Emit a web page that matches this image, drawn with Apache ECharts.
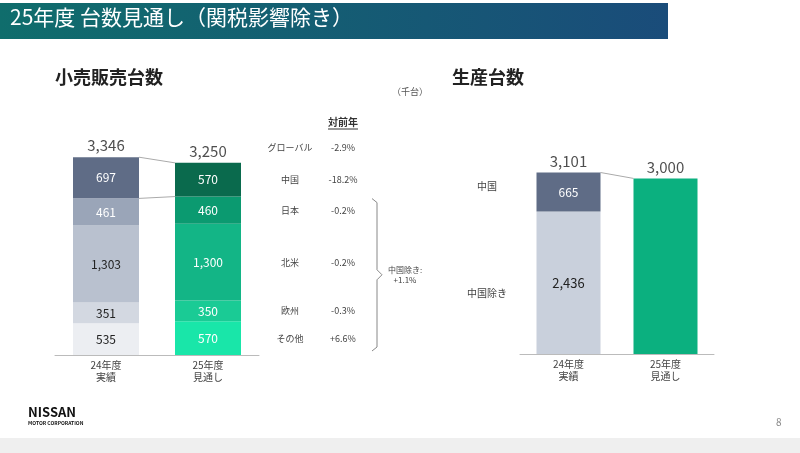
<!DOCTYPE html>
<html><head><meta charset="utf-8">
<script src="https://cdn.jsdelivr.net/npm/echarts@6/dist/echarts.min.js"></script>
<style>html,body{margin:0;padding:0;background:#fff}#main{width:800px;height:453px}</style>
</head><body><div id="main"></div>
<script>
// 小売販売台数 (千台)
var years = ['24年度\n実績', '25年度\n見通し'];
var regions = ['その他', '欧州', '北米', '日本', '中国'];
var retail = {
  'その他': [535, 570],
  '欧州': [351, 350],
  '北米': [1303, 1300],
  '日本': [461, 460],
  '中国': [697, 570]
};
var retailTotal = [3346, 3250];
var yoyGlobal = '-2.9%';
var yoy = ['+6.6%', '-0.3%', '-0.2%', '-0.2%', '-18.2%'];
// 生産台数
var prodExChina = [2436, 3000];
var prodChina = [665, null];
var prodTotal = [3101, 3000];

var grayCols = ['#eceef2', '#d3d8e1', '#b9c1cf', '#9aa5b8', '#5f6c86'];
var greenCols = ['#19e6a9', '#1acb95', '#13b586', '#0b9a70', '#0a6a4d'];

var chart = echarts.init(document.getElementById('main'));
var font = '"Noto Sans CJK JP", "Noto Sans", sans-serif';

var series = regions.map(function (r, i) {
  return {
    type: 'bar', stack: 'r', name: r, xAxisIndex: 0, yAxisIndex: 0, barWidth: 66,
    data: retail[r].map(function (v, j) {
      return { value: v, itemStyle: { color: j === 0 ? grayCols[i] : greenCols[i] },
        label: { color: j === 1 ? '#fff' : (i >= 3 ? '#fff' : '#222') } };
    }),
    label: {
      show: true, fontSize: 12, fontFamily: font,
      formatter: function (p) { return p.value.toLocaleString('en-US'); }
    }
  };
});
series.push({
  type: 'scatter', xAxisIndex: 0, yAxisIndex: 0, symbolSize: 0, data: retailTotal,
  label: { show: true, position: 'top', distance: 4, fontSize: 15, color: '#222', fontFamily: font,
    formatter: function (p) { return p.value.toLocaleString('en-US'); } }
});
series.push({
  type: 'bar', stack: 'p', xAxisIndex: 1, yAxisIndex: 1, barWidth: 64,
  data: [{ value: prodExChina[0], itemStyle: { color: '#c9d0dc' } },
         { value: prodExChina[1], itemStyle: { color: '#0bb07f' } }],
  label: { show: true, fontSize: 13, fontFamily: font, color: '#222',
    formatter: function (p) { return p.dataIndex === 0 ? p.value.toLocaleString('en-US') : ''; } }
});
series.push({
  type: 'bar', stack: 'p', xAxisIndex: 1, yAxisIndex: 1, barWidth: 64,
  data: [{ value: prodChina[0], itemStyle: { color: '#5f6c86' } }, prodChina[1]],
  label: { show: true, fontSize: 12, fontFamily: font, color: '#fff' }
});
series.push({
  type: 'scatter', xAxisIndex: 1, yAxisIndex: 1, symbolSize: 0, data: prodTotal,
  label: { show: true, position: 'top', distance: 4, fontSize: 15, color: '#222', fontFamily: font,
    formatter: function (p) { return p.value.toLocaleString('en-US'); } }
});

function xAx(i) {
  return { type: 'category', gridIndex: i, data: years,
    axisLine: { lineStyle: { color: '#bbb' } }, axisTick: { show: false },
    axisLabel: { fontSize: 10, color: '#444', lineHeight: 12, margin: 4, fontFamily: font } };
}
function yAx(i) {
  return { type: 'value', gridIndex: i, min: 0, max: 3400, show: false, splitLine: { show: false } };
}

chart.setOption({
  animation: false,
  textStyle: { fontFamily: font },
  grid: [{ left: 55, width: 204, top: 154, bottom: 98 },
         { left: 520, width: 194, top: 155, bottom: 99 }],
  xAxis: [xAx(0), xAx(1)],
  yAxis: [yAx(0), yAx(1)],
  series: series
});

// annotations placed via chart scales
function px(gi, cat, v) { return chart.convertToPixel({ gridIndex: gi }, [cat, v]); }
var g = [];
// header
g.push({ type: 'rect', shape: { x: 0, y: 3, width: 668, height: 36 },
  style: { fill: new echarts.graphic.LinearGradient(0, 0, 1, 0, [{ offset: 0, color: '#0f6d6c' }, { offset: 1, color: '#1a4c7a' }]) } });
g.push({ type: 'text', x: 10, y: 7, style: { text: '25年度 台数見通し（関税影響除き）', fill: '#fff', fontSize: 21, fontFamily: font } });
g.push({ type: 'text', x: 55, y: 68, style: { text: '小売販売台数', fill: '#222', fontSize: 18, fontWeight: 'bold', fontFamily: font } });
g.push({ type: 'text', x: 452, y: 68, style: { text: '生産台数', fill: '#222', fontSize: 18, fontWeight: 'bold', fontFamily: font } });
g.push({ type: 'text', x: 392, y: 87, style: { text: '（千台）', fill: '#555', fontSize: 9, fontFamily: font } });
g.push({ type: 'text', x: 343, y: 122, style: { text: '対前年', fill: '#333', fontSize: 10, fontWeight: 'bold', fontFamily: font, align: 'center', verticalAlign: 'middle' } });
g.push({ type: 'line', shape: { x1: 328, y1: 129, x2: 358, y2: 129 }, style: { stroke: '#333', lineWidth: 1 } });

// row labels aligned to 25年度 segment centers
var yGlobal = px(0, 1, retailTotal[1])[1] - 15;
g.push({ type: 'text', x: 290, y: yGlobal, style: { text: 'グローバル', fill: '#444', fontSize: 9, align: 'center', verticalAlign: 'middle', fontFamily: font } });
g.push({ type: 'text', x: 343, y: yGlobal, style: { text: yoyGlobal, fill: '#444', fontSize: 9, align: 'center', verticalAlign: 'middle', fontFamily: font } });
var cum = 0;
var braceTop = 0, braceBot = 0;
regions.forEach(function (r, i) {
  var v = retail[r][1];
  var y = px(0, 1, cum + v / 2)[1];
  if (i === 0) braceBot = px(0, 1, 0)[1] - 4;
  if (i === 3) braceTop = px(0, 1, cum + v)[1] + 2;
  cum += v;
  g.push({ type: 'text', x: 290, y: y, style: { text: r, fill: '#444', fontSize: 9, align: 'center', verticalAlign: 'middle', fontFamily: font } });
  g.push({ type: 'text', x: 343, y: y, style: { text: yoy[i], fill: '#444', fontSize: 9, align: 'center', verticalAlign: 'middle', fontFamily: font } });
});
var mid = (braceTop + braceBot) / 2;
g.push({ type: 'polyline', shape: { points: [[372, braceTop], [377, braceTop + 4], [377, mid - 5], [382, mid],
  [377, mid + 5], [377, braceBot - 4], [372, braceBot]] }, style: { fill: 'none', stroke: '#888', lineWidth: 1 } });
g.push({ type: 'text', x: 405, y: mid, style: { text: '中国除き:\n+1.1%', fill: '#444', fontSize: 8, lineHeight: 10, align: 'center', verticalAlign: 'middle', fontFamily: font } });

// connectors
var bw = 33;
var a = px(0, 0, retailTotal[0]), b = px(0, 1, retailTotal[1]);
g.push({ type: 'line', shape: { x1: a[0] + bw, y1: a[1], x2: b[0] - bw, y2: b[1] }, style: { stroke: '#aaa', lineWidth: 1 } });
var a2 = px(0, 0, retailTotal[0] - retail['中国'][0]), b2 = px(0, 1, retailTotal[1] - retail['中国'][1]);
g.push({ type: 'line', shape: { x1: a2[0] + bw, y1: a2[1], x2: b2[0] - bw, y2: b2[1] }, style: { stroke: '#aaa', lineWidth: 1 } });
var c = px(1, 0, prodTotal[0]), d = px(1, 1, prodTotal[1]);
g.push({ type: 'line', shape: { x1: c[0] + 32, y1: c[1], x2: d[0] - 32, y2: d[1] }, style: { stroke: '#aaa', lineWidth: 1 } });
// right labels
var yc = px(1, 0, prodExChina[0] + prodChina[0] / 2)[1] - 6;
var ye = px(1, 0, prodExChina[0] / 2)[1] + 10;
g.push({ type: 'text', x: 487, y: yc, style: { text: '中国', fill: '#444', fontSize: 10, align: 'center', verticalAlign: 'middle', fontFamily: font } });
g.push({ type: 'text', x: 487, y: ye, style: { text: '中国除き', fill: '#444', fontSize: 10, align: 'center', verticalAlign: 'middle', fontFamily: font } });

// footer
g.push({ type: 'text', x: 28, y: 406, style: { text: 'NISSAN', fill: '#111', fontSize: 13, fontWeight: 'bold', fontFamily: font } });
g.push({ type: 'text', x: 28, y: 421, style: { text: 'MOTOR CORPORATION', fill: '#111', fontSize: 5, fontWeight: 'bold', fontFamily: font } });
g.push({ type: 'text', x: 776, y: 417, style: { text: '8', fill: '#888', fontSize: 10, fontFamily: font } });
g.push({ type: 'rect', shape: { x: 0, y: 438, width: 800, height: 15 }, style: { fill: '#efefef' } });

chart.setOption({ graphic: g });
</script>
</body></html>
